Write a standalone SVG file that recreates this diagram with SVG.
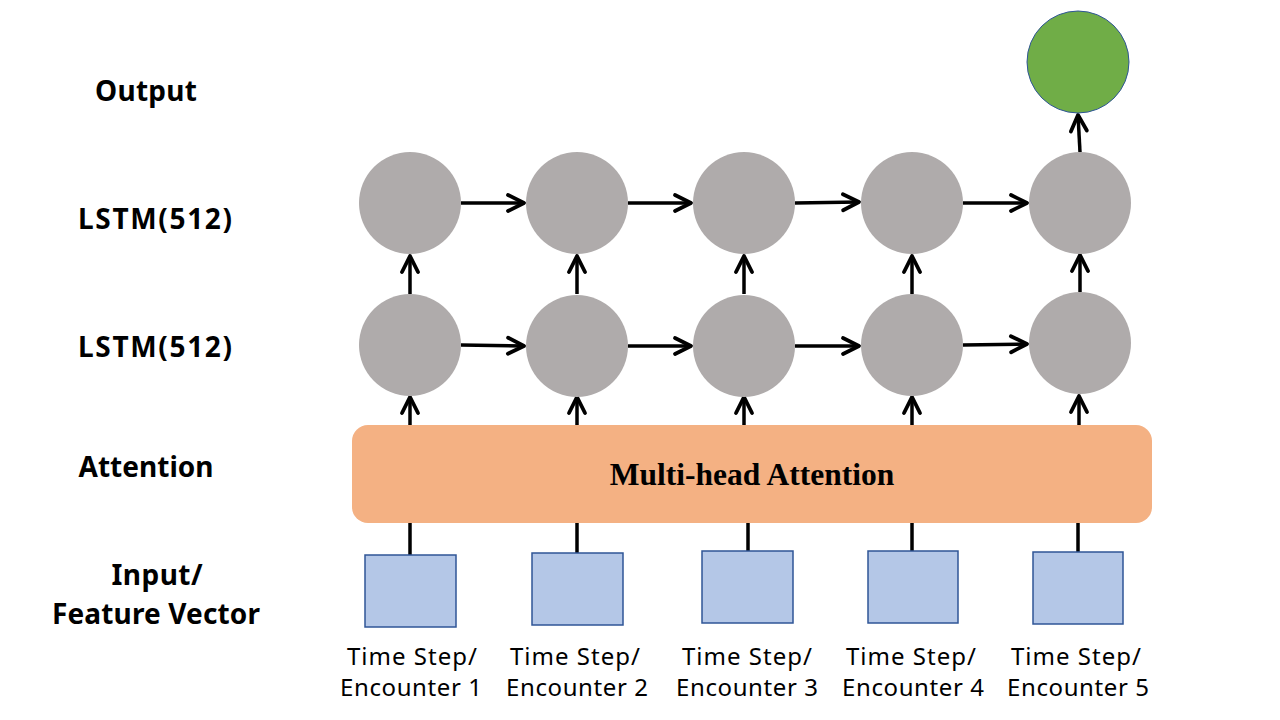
<svg xmlns="http://www.w3.org/2000/svg" width="1280" height="720" viewBox="0 0 1280 720">
<style>
.lbl{font-family:"Noto Sans","Open Sans","DejaVu Sans",sans-serif;font-weight:bold;font-size:28px;fill:#000;text-anchor:middle}
.cap{font-family:"Noto Sans","Open Sans","DejaVu Sans",sans-serif;font-size:24px;fill:#000;text-anchor:middle}
.lstm{fill:#AFABAB}
.inp{fill:#B4C7E7;stroke:#2F5597;stroke-width:1.5}
.ar{stroke:#000;stroke-width:3.5;fill:none}
</style>
<defs>
<marker id="ah" markerUnits="userSpaceOnUse" markerWidth="24" markerHeight="24" viewBox="-20 -12 24 24" refX="0" refY="0" orient="auto">
<path d="M-16,-8 L0,0 L-16,8" fill="none" stroke="#000" stroke-width="3.8" stroke-linecap="round" stroke-linejoin="round"/>
</marker>
</defs>
<rect width="1280" height="720" fill="#fff"/>
<g id="labels">
<text class="lbl" x="146" y="101" textLength="102" lengthAdjust="spacing">Output</text>
<text class="lbl" x="155" y="229" textLength="154" lengthAdjust="spacing">LSTM(512)</text>
<text class="lbl" x="155" y="357" textLength="154" lengthAdjust="spacing">LSTM(512)</text>
<text class="lbl" x="146" y="477" textLength="135" lengthAdjust="spacing">Attention</text>
<text class="lbl" x="157" y="585" textLength="91" lengthAdjust="spacing">Input/</text>
<text class="lbl" x="156" y="624" textLength="208" lengthAdjust="spacing">Feature Vector</text>
</g>
<g id="connectors">
<line class="ar" x1="461" y1="203" x2="524" y2="203" marker-end="url(#ah)"/>
<line class="ar" x1="628" y1="203" x2="691" y2="203" marker-end="url(#ah)"/>
<line class="ar" x1="795" y1="203" x2="859" y2="202" marker-end="url(#ah)"/>
<line class="ar" x1="963" y1="203" x2="1027" y2="203" marker-end="url(#ah)"/>
<line class="ar" x1="461" y1="345" x2="524" y2="346" marker-end="url(#ah)"/>
<line class="ar" x1="628" y1="346" x2="691" y2="346" marker-end="url(#ah)"/>
<line class="ar" x1="795" y1="346" x2="859" y2="346" marker-end="url(#ah)"/>
<line class="ar" x1="963" y1="345" x2="1027" y2="344" marker-end="url(#ah)"/>
<line class="ar" x1="410" y1="294" x2="410" y2="256" marker-end="url(#ah)"/>
<line class="ar" x1="577" y1="294" x2="577" y2="256" marker-end="url(#ah)"/>
<line class="ar" x1="744" y1="294" x2="744" y2="256" marker-end="url(#ah)"/>
<line class="ar" x1="912" y1="294" x2="912" y2="256" marker-end="url(#ah)"/>
<line class="ar" x1="1080" y1="292" x2="1080" y2="255" marker-end="url(#ah)"/>
<line class="ar" x1="410" y1="426" x2="410" y2="397" marker-end="url(#ah)"/>
<line class="ar" x1="577" y1="426" x2="577" y2="397" marker-end="url(#ah)"/>
<line class="ar" x1="744" y1="426" x2="744" y2="397" marker-end="url(#ah)"/>
<line class="ar" x1="912" y1="426" x2="912" y2="397" marker-end="url(#ah)"/>
<line class="ar" x1="1079" y1="426" x2="1079" y2="396" marker-end="url(#ah)"/>
<line class="ar" x1="1080" y1="152" x2="1078" y2="115" marker-end="url(#ah)"/>
<line class="ar" x1="410" y1="520" x2="410" y2="555"/>
<line class="ar" x1="577" y1="520" x2="577" y2="553"/>
<line class="ar" x1="748" y1="520" x2="748" y2="551"/>
<line class="ar" x1="912" y1="520" x2="912" y2="551"/>
<line class="ar" x1="1078" y1="520" x2="1078" y2="552"/>
</g>
<g id="output"><circle cx="1078" cy="62" r="51" fill="#70AD47" stroke="#2F5597" stroke-width="1"/></g>
<g id="lstm2">
<circle class="lstm" cx="410" cy="203" r="51"/>
<circle class="lstm" cx="577" cy="203" r="51"/>
<circle class="lstm" cx="744" cy="203" r="51"/>
<circle class="lstm" cx="912" cy="203" r="51"/>
<circle class="lstm" cx="1080" cy="203" r="51"/>
</g>
<g id="lstm1">
<circle class="lstm" cx="410" cy="345" r="51"/>
<circle class="lstm" cx="577" cy="346" r="51"/>
<circle class="lstm" cx="744" cy="346" r="51"/>
<circle class="lstm" cx="912" cy="345" r="51"/>
<circle class="lstm" cx="1080" cy="343" r="51"/>
</g>
<g id="attention">
<rect x="352" y="425" width="800" height="98" rx="16" fill="#F4B183"/>
<text x="752" y="485" font-family="'Liberation Serif','Times New Roman',serif" font-weight="bold" font-size="31.5" text-anchor="middle">Multi-head Attention</text>
</g>
<g id="inputs">
<rect class="inp" x="365" y="555" width="91" height="72"/>
<rect class="inp" x="532" y="553" width="91" height="72"/>
<rect class="inp" x="702" y="551" width="91" height="72"/>
<rect class="inp" x="868" y="551" width="90" height="72"/>
<rect class="inp" x="1033" y="552" width="90" height="72"/>
</g>
<g id="captions">
<text class="cap" x="412" y="665" textLength="130" lengthAdjust="spacing">Time Step/</text>
<text class="cap" x="411" y="696" textLength="142" lengthAdjust="spacing">Encounter 1</text>
<text class="cap" x="575" y="665" textLength="130" lengthAdjust="spacing">Time Step/</text>
<text class="cap" x="577" y="696" textLength="142" lengthAdjust="spacing">Encounter 2</text>
<text class="cap" x="747" y="665" textLength="130" lengthAdjust="spacing">Time Step/</text>
<text class="cap" x="747" y="696" textLength="142" lengthAdjust="spacing">Encounter 3</text>
<text class="cap" x="911" y="665" textLength="130" lengthAdjust="spacing">Time Step/</text>
<text class="cap" x="913" y="696" textLength="142" lengthAdjust="spacing">Encounter 4</text>
<text class="cap" x="1076" y="665" textLength="130" lengthAdjust="spacing">Time Step/</text>
<text class="cap" x="1078" y="696" textLength="142" lengthAdjust="spacing">Encounter 5</text>
</g>
</svg>
